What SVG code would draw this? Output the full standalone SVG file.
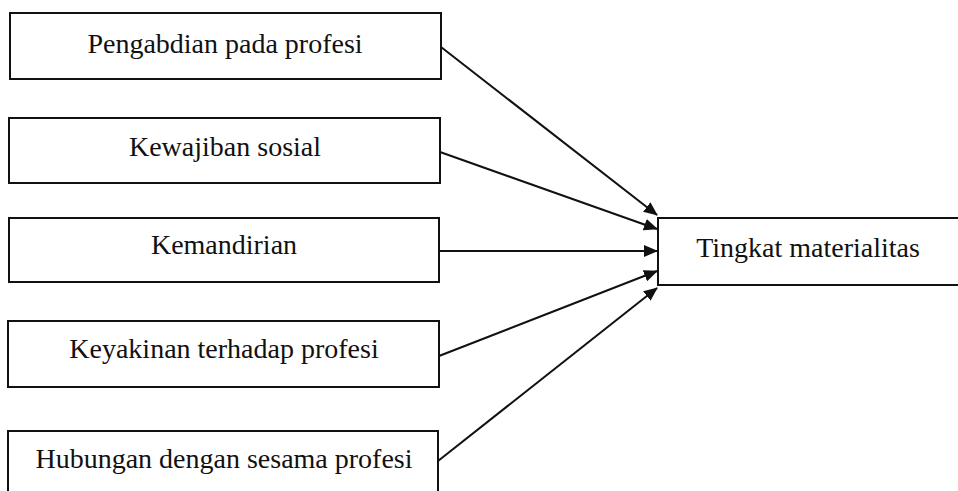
<svg xmlns="http://www.w3.org/2000/svg" width="958" height="491" viewBox="0 0 958 491">
<style>
.box{fill:#fff;stroke:#111;stroke-width:2}
.lbl{font-family:"Liberation Serif","Times New Roman",serif;font-size:28px;fill:#111;text-anchor:middle}
.edge{stroke:#111;stroke-width:2;fill:none}
</style>
<defs>
<marker id="ah" markerWidth="14" markerHeight="12" refX="13" refY="6" orient="auto" markerUnits="userSpaceOnUse">
<path d="M0,0 L14,6 L0,12 z" fill="#111"/>
</marker>
</defs>
<rect width="958" height="491" fill="#fff"/>
<g id="n1"><rect class="box" x="10" y="13" width="431" height="66"/><text class="lbl" x="225" y="53">Pengabdian pada profesi</text></g>
<g id="n2"><rect class="box" x="9" y="118" width="431" height="65"/><text class="lbl" x="225" y="156">Kewajiban sosial</text></g>
<g id="n3"><rect class="box" x="9" y="218" width="430" height="64"/><text class="lbl" x="224" y="254">Kemandirian</text></g>
<g id="n4"><rect class="box" x="8" y="321" width="431" height="66"/><text class="lbl" x="224" y="358">Keyakinan terhadap profesi</text></g>
<g id="n5"><rect class="box" x="8" y="431" width="430" height="70"/><text class="lbl" x="224" y="468">Hubungan dengan sesama profesi</text></g>
<g id="n6"><rect class="box" x="658" y="218" width="310" height="67"/><text class="lbl" x="808" y="257">Tingkat materialitas</text></g>
<g id="edges">
<line class="edge" x1="441" y1="47" x2="657" y2="215" marker-end="url(#ah)"/>
<line class="edge" x1="440" y1="152" x2="657" y2="229" marker-end="url(#ah)"/>
<line class="edge" x1="439" y1="251" x2="657" y2="251" marker-end="url(#ah)"/>
<line class="edge" x1="439" y1="356" x2="657" y2="271" marker-end="url(#ah)"/>
<line class="edge" x1="438" y1="461" x2="657" y2="288" marker-end="url(#ah)"/>
</g>
</svg>
